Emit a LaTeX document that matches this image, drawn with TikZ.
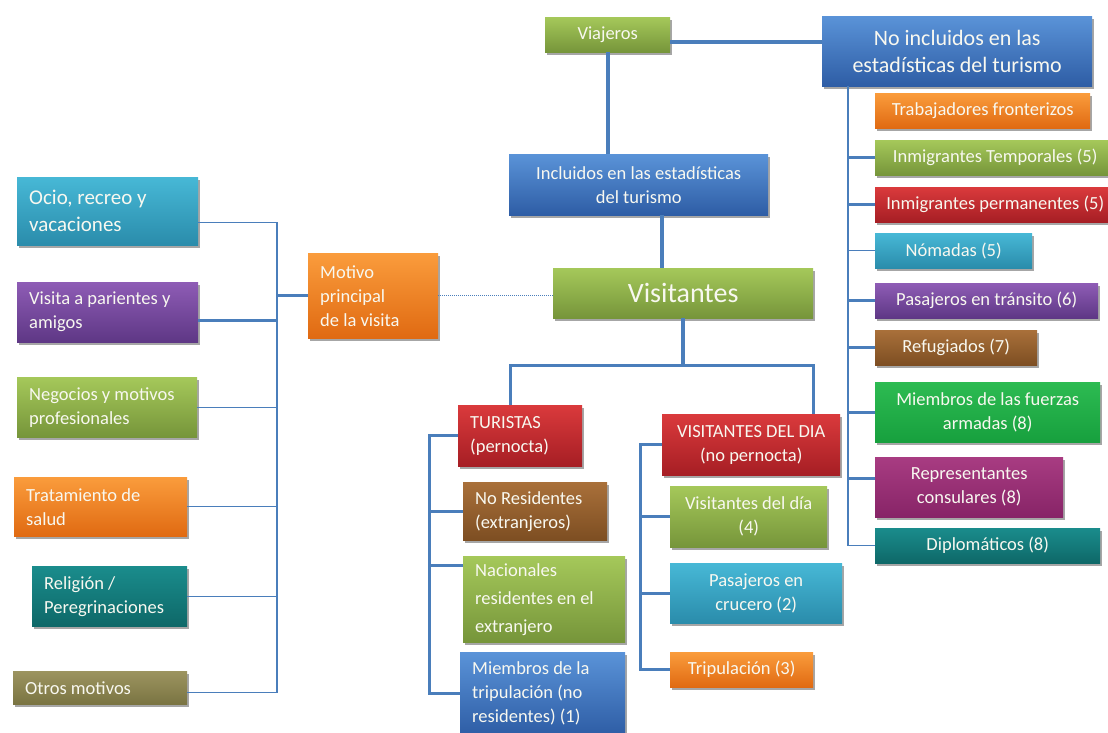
\documentclass[tikz,border=0pt]{standalone}
\usepackage{fontspec}
\setmainfont{Carlito}
\usetikzlibrary{shadows,calc}

\definecolor{ln}{HTML}{4A7EBB}
\definecolor{txt}{HTML}{F8F8F0}

\tikzset{
  shade green/.style={top color=green1, bottom color=green2},
  shade blue/.style={top color=blue1, bottom color=blue2},
  shade cyan/.style={top color=cyan1, bottom color=cyan2},
  shade purple/.style={top color=purple1, bottom color=purple2},
  shade orange/.style={top color=orange1, bottom color=orange2},
  shade red/.style={top color=red1, bottom color=red2},
  shade brown/.style={top color=brown1, bottom color=brown2},
  shade teal/.style={top color=teal1, bottom color=teal2},
  shade olive/.style={top color=olive1, bottom color=olive2},
  shade army/.style={top color=army1, bottom color=army2},
  shade plum/.style={top color=plum1, bottom color=plum2},
  boxbase/.style={anchor=north west, inner ysep=0pt, text=txt,
    font=\fontsize{18.5}{24}\selectfont,
    drop shadow={shadow xshift=1.5pt, shadow yshift=-2.5pt, opacity=.35, fill=black}},
  cbox/.style={boxbase, inner xsep=3pt, align=center},
  lbox/.style={boxbase, inner xsep=12pt, align=flush left},
  sz/.style n args={2}{minimum width=#1pt, minimum height=#2pt},
  lsz/.style n args={3}{minimum width=#1pt, minimum height=#2pt, text width=#3pt},
  main/.style={draw=ln, line width=4pt},
  mid/.style={draw=ln, line width=3pt},
  thinln/.style={draw=ln, line width=1.2pt},
  dotln/.style={draw=ln, line width=1pt, densely dotted},
}

\definecolor{green1}{HTML}{A5C85A}\definecolor{green2}{HTML}{76953A}
\definecolor{blue1}{HTML}{5A93D8}\definecolor{blue2}{HTML}{2E5DA5}
\definecolor{cyan1}{HTML}{47B8D6}\definecolor{cyan2}{HTML}{2A8CAB}
\definecolor{purple1}{HTML}{8E5CB5}\definecolor{purple2}{HTML}{5E3785}
\definecolor{orange1}{HTML}{FA9C3C}\definecolor{orange2}{HTML}{E06A12}
\definecolor{red1}{HTML}{DA3A3C}\definecolor{red2}{HTML}{A61E24}
\definecolor{brown1}{HTML}{A9703A}\definecolor{brown2}{HTML}{7D4E22}
\definecolor{teal1}{HTML}{1A8C8C}\definecolor{teal2}{HTML}{0E6868}
\definecolor{olive1}{HTML}{9C9460}\definecolor{olive2}{HTML}{7A7442}
\definecolor{army1}{HTML}{2DBB52}\definecolor{army2}{HTML}{17A03E}
\definecolor{plum1}{HTML}{A83C82}\definecolor{plum2}{HTML}{872467}

\begin{document}
\begin{tikzpicture}[x=1pt,y=-1pt]
\fill[white] (0,0) rectangle (1108,733);
\clip (0,0) rectangle (1108,733);

% ---- top of the tree ----
\node[cbox, shade green, sz={125}{35}] (viajeros) at (545,17) {Viajeros};
\node[cbox, shade blue, sz={270}{70}, font=\fontsize{22}{27}\selectfont] (noinc) at (822,16)
  {No incluidos en las\\estadísticas del turismo};
\node[cbox, shade blue, sz={259}{61}] (incl) at (509,154)
  {Incluidos en las estadísticas\\del turismo};
\node[cbox, shade green, sz={260}{50}, font=\fontsize{28}{32}\selectfont] (visit) at (553,268) {Visitantes};

% ---- purpose of the visit ----
\node[lbox, shade orange, lsz={130}{85}{106}] (motivo) at (308,253) {Motivo\\principal\\de la visita};
\node[lbox, shade cyan, lsz={181}{68}{157}, font=\fontsize{21}{27}\selectfont] (ocio) at (17,177) {Ocio, recreo y\\vacaciones};
\node[lbox, shade purple, lsz={181}{60}{157}] (visita) at (17,282) {Visita a parientes y\\amigos};
\node[lbox, shade green, lsz={180}{60}{156}] (negocios) at (17,377) {Negocios y motivos\\profesionales};
\node[lbox, shade orange, lsz={173}{59}{149}] (tratam) at (14,477) {Tratamiento de\\salud};
\node[lbox, shade teal, lsz={155}{60}{131}] (religion) at (32,566) {Religión /\\Peregrinaciones};
\node[lbox, shade olive, lsz={174}{33}{150}] (otros) at (13,671) {Otros motivos};

% ---- tourists ----
\node[lbox, shade red, lsz={124}{61}{100}] (turistas) at (458,405) {TURISTAS\\(pernocta)};
\node[lbox, shade brown, lsz={144}{58}{120}] (nores) at (463,482) {No Residentes\\(extranjeros)};
\node[lbox, shade green, lsz={162}{86}{138}, font=\fontsize{18.5}{28}\selectfont] (nac) at (463,556) {Nacionales\\residentes en el\\extranjero};
\node[lbox, shade blue, lsz={165}{83}{141}] (mtrip) at (460,652) {Miembros de la\\tripulación (no\\residentes) (1)};

% ---- same-day visitors ----
\node[cbox, shade red, sz={178}{61}] (vdd) at (662,414) {VISITANTES DEL DIA\\(no pernocta)};
\node[cbox, shade green, sz={157}{61}] (visdia) at (670,486) {Visitantes del día\\(4)};
\node[cbox, shade cyan, sz={172}{60}] (crucero) at (670,563) {Pasajeros en\\crucero (2)};
\node[cbox, shade orange, sz={143}{35}] (tripul) at (670,652) {Tripulación (3)};

% ---- travellers outside tourism statistics ----
\node[cbox, shade orange, sz={215}{35}] (trab) at (875,93) {Trabajadores fronterizos};
\node[cbox, shade green, sz={240}{35}] (itemp) at (875,140) {Inmigrantes Temporales (5)};
\node[cbox, shade red, sz={240}{35}] (iperm) at (875,187) {Inmigrantes permanentes (5)};
\node[cbox, shade cyan, sz={157}{35}] (nomadas) at (875,233) {Nómadas (5)};
\node[cbox, shade purple, sz={223}{35}] (pasaj) at (875,283) {Pasajeros en tránsito (6)};
\node[cbox, shade brown, sz={162}{35}] (refug) at (875,330) {Refugiados (7)};
\node[cbox, shade army, sz={225}{60}] (fuerzas) at (875,382) {Miembros de las fuerzas\\armadas (8)};
\node[cbox, shade plum, sz={188}{60}] (repres) at (875,457) {Representantes\\consulares (8)};
\node[cbox, shade teal, sz={225}{35}] (dipl) at (875,528) {Diplomáticos (8)};

% ---- connectors: main trunk ----
\path ($(viajeros.east)+(0,7.5)$) coordinate (vj);
\draw[main] (vj) -- (vj -| noinc.west);
\draw[main] (viajeros.south) -- (viajeros.south |- incl.north);
\path ($(visit.north)+(-21,0)$) coordinate (iv);
\draw[main] (iv |- incl.south) -- (iv);
\path ($(visit.south)+(0,47)$) coordinate (split);
\draw[main] (visit.south) -- (split);
\path ($(turistas.north)+(-10,0)$) coordinate (td);
\draw[mid] (td) -- (td |- split) -- (visit.east |- split) -- (visit.east |- vdd.north);
\draw[dotln] (motivo.east) -- (motivo.east -| visit.west);

% ---- connectors: purposes ----
\coordinate (lb) at (277,0);
\path ($(ocio.east)+(0,11)$) coordinate (oc);
\path ($(visita.east)+(0,8)$) coordinate (vp);
\path ($(otros.east)+(0,5)$) coordinate (ot);
\draw[thinln] (oc) -- (oc -| lb) -- (ot -| lb) -- (ot);
\draw[mid] (vp) -- (vp -| lb);
\draw[mid] (motivo.west) -- (motivo.west -| lb);
\draw[thinln] (negocios.east) -- (negocios.east -| lb);
\draw[thinln] (tratam.east) -- (tratam.east -| lb);
\draw[thinln] (religion.east) -- (religion.east -| lb);

% ---- connectors: tourists ----
\coordinate (tb) at (429,0);
\path ($(nac.north west)+(0,9)$) coordinate (nc);
\draw[mid] (turistas.west) -- (turistas.west -| tb) -- (mtrip.west -| tb) -- (mtrip.west);
\draw[mid] (nores.west) -- (nores.west -| tb);
\draw[mid] (nc) -- (nc -| tb);

% ---- connectors: same-day visitors ----
\coordinate (db) at (640,0);
\draw[mid] (vdd.west) -- (vdd.west -| db) -- (tripul.west -| db) -- (tripul.west);
\draw[mid] (visdia.west) -- (visdia.west -| db);
\draw[mid] (crucero.west) -- (crucero.west -| db);

% ---- connectors: outside tourism statistics ----
\coordinate (rb) at (848,0);
\path ($(repres.west)+(0,-9)$) coordinate (rp);
\draw[thinln] (rb |- noinc.south) -- (rb |- dipl.west) -- (dipl.west);
\draw[mid] (itemp.west) -- (itemp.west -| rb);
\draw[mid] (iperm.west) -- (iperm.west -| rb);
\draw[thinln] (nomadas.west) -- (nomadas.west -| rb);
\draw[mid] (pasaj.west) -- (pasaj.west -| rb);
\draw[mid] (refug.west) -- (refug.west -| rb);
\draw[mid] (fuerzas.west) -- (fuerzas.west -| rb);
\draw[mid] (rp) -- (rp -| rb);
\end{tikzpicture}
\end{document}
